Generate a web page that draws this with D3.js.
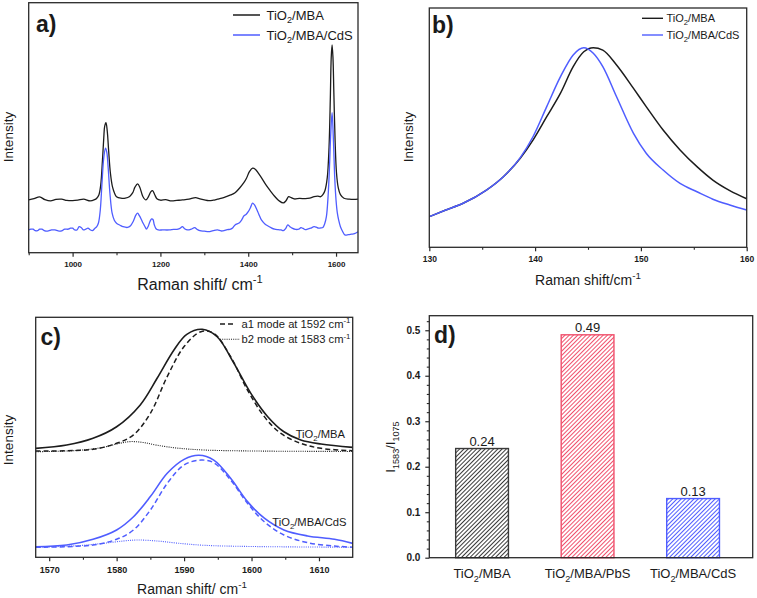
<!DOCTYPE html>
<html><head><meta charset="utf-8">
<script src="https://cdn.jsdelivr.net/npm/d3@7"></script>
<style>
body{margin:0;background:#fff}
svg{display:block}
text{font-family:"Liberation Sans",Arial,sans-serif;fill:#1a1a1a}
</style>
</head><body>
<svg id="chart" width="757" height="598"></svg>
<script>
// ---------- DATA ----------
// Panel a: Raman spectra (x: Raman shift cm-1, y: intensity a.u.)
const aTicks = [1000, 1200, 1400, 1600];
const aMinorTicks = [900, 1100, 1300, 1500];
const aMBA = [[900,211],[912,216],[925,223],[937,212],[950,207],[962,213],[975,214],[987,209],[1000,208],[1012,210],[1025,214],[1040,207],[1050,212],[1055,218],[1060,232],[1064,270],[1068,370],[1071,460],[1073,505],[1076,520],[1079,485],[1082,410],[1086,320],[1091,262],[1096,236],[1100,224],[1110,218],[1120,218],[1130,225],[1137,240],[1142,262],[1148,275],[1153,262],[1160,225],[1167,211],[1173,225],[1178,243],[1182,248],[1187,232],[1192,216],[1200,210],[1212,212],[1225,207],[1237,209],[1250,211],[1265,214],[1280,220],[1290,215],[1300,211],[1310,208],[1320,210],[1330,214],[1340,218],[1350,224],[1360,231],[1370,240],[1380,258],[1390,280],[1396,298],[1403,325],[1410,338],[1416,334],[1423,318],[1430,300],[1440,272],[1450,248],[1460,226],[1470,208],[1480,199],[1486,208],[1492,224],[1498,220],[1505,215],[1517,217],[1530,216],[1540,218],[1550,224],[1558,226],[1565,224],[1570,232],[1575,250],[1580,300],[1584,420],[1587,620],[1589,780],[1591,831],[1593,780],[1595,640],[1598,440],[1601,320],[1605,260],[1610,232],[1618,218],[1630,214],[1640,213],[1650,214]];
const aCdS = [[900,91],[905,94],[910,94],[915,88],[920,88],[925,94],[930,94],[937,87],[945,87],[952,91],[960,91],[967,87],[975,87],[982,94],[990,94],[995,98],[1000,98],[1005,91],[1010,91],[1015,104],[1020,100],[1025,91],[1030,94],[1035,98],[1040,92],[1045,88],[1050,96],[1055,104],[1059,120],[1063,170],[1067,280],[1071,380],[1075,418],[1078,400],[1081,340],[1085,238],[1090,158],[1095,130],[1100,118],[1108,110],[1115,104],[1125,101],[1132,108],[1138,125],[1144,150],[1148,158],[1152,148],[1156,135],[1160,120],[1165,104],[1168,94],[1172,105],[1176,124],[1180,135],[1183,133],[1186,112],[1190,96],[1195,91],[1205,91],[1220,91],[1230,93],[1240,94],[1245,98],[1250,104],[1255,96],[1262,91],[1270,94],[1278,100],[1284,93],[1290,88],[1300,86],[1310,84],[1320,88],[1330,91],[1338,87],[1345,88],[1352,92],[1360,94],[1365,100],[1370,111],[1380,120],[1386,134],[1390,147],[1395,153],[1400,164],[1405,180],[1410,198],[1414,192],[1420,171],[1425,150],[1430,131],[1438,115],[1445,107],[1452,100],[1460,94],[1468,92],[1475,91],[1480,88],[1485,96],[1490,111],[1495,104],[1500,98],[1508,93],[1515,94],[1520,100],[1525,97],[1530,92],[1535,94],[1542,98],[1550,104],[1555,102],[1560,98],[1565,99],[1570,101],[1574,115],[1578,144],[1582,230],[1585,340],[1588,479],[1591,560],[1594,451],[1597,300],[1600,210],[1603,158],[1606,130],[1610,104],[1615,85],[1620,71],[1628,72],[1635,74],[1642,76],[1650,84]];

// Panel b: low-frequency TiO2 Eg mode
const bTicks = [130, 140, 150, 160];
const bMinorTicks = [135, 145, 155];
const bMBA = [[130,12.8],[131.5,15.5],[133.2,18.4],[135.4,23.9],[137,29.5],[138.6,37.2],[139.8,44.8],[141.1,54.6],[142.4,64.4],[143.6,75.5],[144.6,81.7],[145.5,83.4],[146.4,82.4],[147.7,76.2],[149.3,66.4],[150.5,58.8],[152.1,49.0],[153.7,40.7],[155.3,33.7],[156.8,28.1],[158.4,23.7],[160,20.3]];
const bCdS = [[130,12.8],[131.5,15.5],[133.2,18.4],[135.4,23.9],[137,29.5],[138.6,37.5],[139.8,46.2],[141.1,58.8],[142.4,71.3],[143.6,80.4],[144.6,83.4],[145.5,81.1],[146.4,75.5],[147.7,62.9],[149.3,47.6],[150.5,39.3],[152.1,32.3],[153.7,26.7],[155.3,23.2],[156.8,20.1],[158.4,17.7],[160,15.6]];

// Panel c: deconvolution around 1590 cm-1
const cTicks = [1570, 1580, 1590, 1600, 1610];
const cMinorTicks = [1575, 1585, 1595, 1605];
const cMBAsum = [[1568,45.4],[1572.6,46.8],[1576.5,49.6],[1580,54.4],[1583.5,63.5],[1586,74.6],[1588.5,86.4],[1590.4,92.9],[1592.7,95],[1594.9,91.9],[1597.4,80.8],[1599.9,68.3],[1602.4,58.6],[1604.8,52.3],[1607.3,48.9],[1610.3,47.2],[1615,45.8]];
const cMBAa1 = [[1568,44.3],[1576.5,45],[1580,47.5],[1582.5,51],[1585,60],[1587.5,75.3],[1590,87.8],[1592.5,94],[1594.4,93.3],[1596.9,83.6],[1599.4,69.7],[1601.9,58.6],[1604.3,51.7],[1607.3,47.5],[1610.3,45.4],[1615,44.4]];
const cMBAb2 = [[1568,44.0],[1574,44.5],[1578,45.8],[1580,47.2],[1582,48.2],[1584,47.8],[1586,46.7],[1589,45.5],[1593,44.7],[1600,44.3],[1615,44.1]];
const cCdSsum = [[1568,4.4],[1572.6,5.1],[1576.5,7.5],[1580,11.4],[1582.5,16.9],[1585,25.3],[1587.5,35],[1590,40.8],[1592.2,42.5],[1594.4,40.5],[1596.9,32.9],[1599.4,23.2],[1601.9,16.3],[1604.8,11.4],[1608.3,8.9],[1612.3,7.5],[1615,5.8]];
const cCdSa1 = [[1568,4.2],[1576.5,5.1],[1580,7.5],[1582.5,11.4],[1585,19.7],[1587.5,30.8],[1590,38.5],[1592.5,40.5],[1594.4,39.4],[1596.9,32.2],[1599.4,22.5],[1601.9,14.8],[1604.8,9.3],[1608.3,6.1],[1612.3,4.7],[1615,4.2]];
const cCdSb2 = [[1568,4.2],[1574,4.8],[1578,5.8],[1581,6.8],[1583,7.2],[1586,6.8],[1589,5.9],[1593,5.0],[1600,4.5],[1615,4.2]];

// Panel d: intensity ratio I1583/I1075
const dCategories = ["TiO2/MBA", "TiO2/MBA/PbS", "TiO2/MBA/CdS"];
const dValues = [0.24, 0.49, 0.13];
const dLabels = ["0.24", "0.49", "0.13"];
const dTicks = [0, 0.1, 0.2, 0.3, 0.4, 0.5];
const dMinorTicks = [0.02,0.04,0.06,0.08,0.12,0.14,0.16,0.18,0.22,0.24,0.26,0.28,0.32,0.34,0.36,0.38,0.42,0.44,0.46,0.48,0.52];

// ---------- STYLE ----------
const BLACK = "#1c1c1c", BLUE = "#4f5dff", PINK = "#f0506c", GREY = "#3a3a3a";
const dColors = [GREY, PINK, BLUE];

const svg = d3.select("#chart");

function rich(t, parts, fs) {
  let cur = 0;
  parts.forEach(([s, m]) => {
    const target = m === "sub" ? fs * 0.3 : m === "sup" ? -fs * 0.42 : 0;
    const ts = t.append("tspan").attr("dy", target - cur).text(s);
    if (m !== "n") ts.attr("font-size", fs * 0.7);
    cur = target;
  });
}
function tio(rest) { return [["TiO","n"],["2","sub"],[rest,"n"]]; }

function frame(x0, y0, x1, y1) {
  svg.append("rect").attr("x", x0).attr("y", y0).attr("width", x1 - x0).attr("height", y1 - y0)
    .attr("fill", "none").attr("stroke", "#2a2a2a").attr("stroke-width", 1.3);
}
function xAxis(scale, y, ticks, minor, fs, pad, fmt) {
  const g = svg.append("g").attr("transform", `translate(0,${y})`)
    .call(d3.axisBottom(scale).tickValues(ticks).tickSize(4).tickPadding(pad).tickSizeOuter(0).tickFormat(fmt || d3.format("d")));
  g.select(".domain").remove();
  g.selectAll("line").attr("stroke", "#2a2a2a").attr("stroke-width", 1.2);
  g.selectAll("text").attr("font-size", fs).attr("font-weight", "bold").attr("font-family", "'Liberation Sans',Arial,sans-serif").attr("fill", "#222");
  const m = svg.append("g").attr("transform", `translate(0,${y})`)
    .call(d3.axisBottom(scale).tickValues(minor).tickSize(2.5).tickFormat(""));
  m.select(".domain").remove();
  m.selectAll("line").attr("stroke", "#2a2a2a").attr("stroke-width", 1.1);
}
function curve(data, xs, ys, color, width, dash, cf) {
  const p = svg.append("path").datum(data)
    .attr("d", d3.line().x(d => xs(d[0])).y(d => ys(d[1])).curve(cf || d3.curveCatmullRom.alpha(0.5)))
    .attr("fill", "none").attr("stroke", color).attr("stroke-width", width)
    .attr("stroke-linejoin", "round");
  if (dash) p.attr("stroke-dasharray", dash);
}
function label(x, y, txt, fs, opts = {}) {
  const t = svg.append("text").attr("x", x).attr("y", y).attr("font-size", fs);
  if (opts.anchor) t.attr("text-anchor", opts.anchor);
  if (opts.weight) t.attr("font-weight", opts.weight);
  if (opts.fill) t.attr("fill", opts.fill);
  if (opts.rotate) t.attr("transform", `rotate(-90,${x},${y})`);
  if (Array.isArray(txt)) rich(t, txt, fs); else t.text(txt);
  return t;
}

// ---------- PANEL A ----------
const xA = d3.scaleLinear().domain([900, 1650]).range([28.7, 358]);
const yA = d3.scaleLinear().domain([0, 1000]).range([252.7, 2.7]);
curve(aMBA, xA, yA, BLACK, 1.3);
curve(aCdS, xA, yA, BLUE, 1.3);
frame(28.7, 2.7, 358, 252.7);
xAxis(xA, 252.7, aTicks, aMinorTicks, 8, 5);
label(200, 290, [["Raman shift/ cm","n"],["-1","sup"]], 16, {anchor: "middle"});
label(13, 137, "Intensity", 13.5, {anchor: "middle", rotate: true});
label(36, 32, "a)", 23, {weight: "bold"});
svg.append("line").attr("x1", 233).attr("x2", 260).attr("y1", 15).attr("y2", 15).attr("stroke", BLACK).attr("stroke-width", 1.5);
svg.append("line").attr("x1", 233).attr("x2", 260).attr("y1", 35).attr("y2", 35).attr("stroke", BLUE).attr("stroke-width", 1.5);
label(266.5, 19.5, tio("/MBA"), 13);
label(266.5, 39.5, tio("/MBA/CdS"), 13);

// ---------- PANEL B ----------
const xB = d3.scaleLinear().domain([130, 160]).range([429.3, 746.7]);
const yB = d3.scaleLinear().domain([0, 100]).range([247.3, 8]);
curve(bMBA, xB, yB, BLACK, 1.5, null, d3.curveMonotoneX);
curve(bCdS, xB, yB, BLUE, 1.5, null, d3.curveMonotoneX);
frame(429.3, 8, 746.7, 247.3);
xAxis(xB, 247.3, bTicks, bMinorTicks, 8.5, 5);
label(588, 285, [["Raman shift/cm","n"],["-1","sup"]], 14, {anchor: "middle"});
label(413, 137, "Intensity", 13.5, {anchor: "middle", rotate: true});
label(432, 33, "b)", 23, {weight: "bold"});
svg.append("line").attr("x1", 642).attr("x2", 663).attr("y1", 18.3).attr("y2", 18.3).attr("stroke", BLACK).attr("stroke-width", 1.4);
svg.append("line").attr("x1", 642).attr("x2", 663).attr("y1", 35).attr("y2", 35).attr("stroke", BLUE).attr("stroke-width", 1.4);
label(666.5, 22, tio("/MBA"), 11);
label(666.5, 38.7, tio("/MBA/CdS"), 11);

// ---------- PANEL C ----------
const xC = d3.scaleLinear().domain([1568, 1615]).range([35.7, 352.7]);
const yC = d3.scaleLinear().domain([0, 100]).range([557.3, 317.3]);
curve(cMBAb2, xC, yC, BLACK, 1.1, "1,1.2");
curve(cMBAa1, xC, yC, BLACK, 1.5, "5,3");
curve(cMBAsum, xC, yC, BLACK, 1.6);
curve(cCdSb2, xC, yC, BLUE, 1.1, "1,1.2");
curve(cCdSa1, xC, yC, BLUE, 1.5, "5,3");
curve(cCdSsum, xC, yC, BLUE, 1.6);
frame(35.7, 317.3, 352.7, 557.3);
xAxis(xC, 557.3, cTicks, cMinorTicks, 9, 5);
label(192, 593.5, [["Raman shift/ cm","n"],["-1","sup"]], 14, {anchor: "middle"});
label(13, 440, "Intensity", 13.5, {anchor: "middle", rotate: true});
label(40.5, 345, "c)", 23, {weight: "bold"});
svg.append("line").attr("x1", 220).attr("x2", 236).attr("y1", 324).attr("y2", 324).attr("stroke", BLACK).attr("stroke-width", 1.4).attr("stroke-dasharray", "5,3");
svg.append("line").attr("x1", 220).attr("x2", 240).attr("y1", 339.3).attr("y2", 339.3).attr("stroke", BLACK).attr("stroke-width", 1.1).attr("stroke-dasharray", "1,1.2");
label(241.5, 328, [["a1 mode at 1592 cm","n"],["-1","sup"]], 11.2);
label(241.5, 343.3, [["b2 mode at 1583 cm","n"],["-1","sup"]], 11.2);
label(345, 437.5, tio("/MBA"), 11.2, {anchor: "end"});
label(346.5, 525.5, tio("/MBA/CdS"), 11.2, {anchor: "end", fill: BLUE});

// ---------- PANEL D ----------
const xD = d3.scaleLinear().domain([0.5, 3.565]).range([429.3, 752.7]);
const yD = d3.scaleLinear().domain([0, 0.532]).range([557.7, 315.7]);
const defs = svg.append("defs");
dColors.forEach((c, i) => {
  const p = defs.append("pattern").attr("id", "hatch" + i).attr("patternUnits", "userSpaceOnUse")
    .attr("width", 3).attr("height", 3).attr("patternTransform", "rotate(45)");
  p.append("rect").attr("width", 3).attr("height", 3).attr("fill", "#fff");
  p.append("line").attr("x1", 0.5).attr("x2", 0.5).attr("y1", 0).attr("y2", 3).attr("stroke", c).attr("stroke-width", 1);
});
const barW = 0.5;
svg.append("g").selectAll("rect").data(dValues).join("rect")
  .attr("x", (d, i) => xD(i + 1 - barW / 2))
  .attr("width", (d, i) => xD(i + 1 + barW / 2) - xD(i + 1 - barW / 2))
  .attr("y", d => yD(d))
  .attr("height", d => yD(0) - yD(d))
  .attr("fill", (d, i) => `url(#hatch${i})`)
  .attr("stroke", (d, i) => dColors[i]).attr("stroke-width", 1.4);
svg.append("g").selectAll("text").data(dValues).join("text")
  .attr("x", (d, i) => xD(i + 1)).attr("y", d => yD(d) - 2.5)
  .attr("text-anchor", "middle").attr("font-size", 13).text((d, i) => dLabels[i]);
frame(429.3, 315.7, 752.7, 557.7);
{
  const g = svg.append("g").attr("transform", "translate(429.3,0)")
    .call(d3.axisLeft(yD).tickValues(dTicks).tickSize(4).tickPadding(5).tickSizeOuter(0).tickFormat(d3.format(".1f")));
  g.select(".domain").remove();
  g.selectAll("line").attr("stroke", "#2a2a2a").attr("stroke-width", 1.2);
  g.selectAll("text").attr("font-size", 10).attr("font-weight", "bold").attr("font-family", "'Liberation Sans',Arial,sans-serif").attr("fill", "#222");
  const m = svg.append("g").attr("transform", "translate(429.3,0)")
    .call(d3.axisLeft(yD).tickValues(dMinorTicks).tickSize(2.5).tickFormat(""));
  m.select(".domain").remove();
  m.selectAll("line").attr("stroke", "#2a2a2a").attr("stroke-width", 1.1);
}
dCategories.forEach((c, i) => {
  label(xD(i + 1), 578, tio(c.slice(4)), 13, {anchor: "middle"});
});
label(395, 447, [["I","n"],["1583","sub"],["/I","n"],["1075","sub"]], 13, {anchor: "middle", rotate: true});
label(434, 343, "d)", 23, {weight: "bold"});
</script>
</body></html>
